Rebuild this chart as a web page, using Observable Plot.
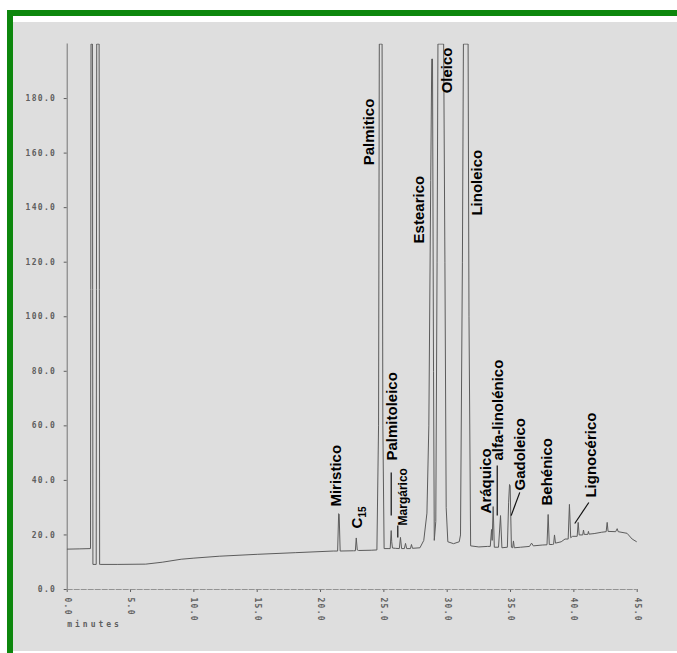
<!DOCTYPE html>
<html>
<head>
<meta charset="utf-8">
<script src="https://cdn.jsdelivr.net/npm/d3@7"></script>
<script src="https://cdn.jsdelivr.net/npm/@observablehq/plot@0.6"></script>
<style>
  html, body { margin: 0; padding: 0; background: #ffffff; }
  #page { position: relative; width: 677px; height: 653px; overflow: hidden; }
  .bar { position: absolute; background: #0d870d; }
  #chart { position: absolute; left: 0; top: 0; }
  #chart svg { letter-spacing: 1.3px; font-weight: bold; }
  #chart g[aria-label="text"] text { letter-spacing: 0; }
</style>
</head>
<body>
<div id="page">
  <div class="bar" style="left:7px;top:10px;width:670px;height:6px"></div>
  <div class="bar" style="left:7px;top:10px;width:6px;height:643px"></div>
  <div style="position:absolute;left:13px;top:22px;width:664px;height:629px;background:#dedede"></div>
  <div id="chart"></div>
</div>
<script>
// Retention time (minutes) and detector signal of the chromatogram trace
const traceTime = [
  0, 1.0, 1.84, 1.86, 1.88, 1.99, 2.01, 2.03, 2.29, 2.31, 2.33, 2.52, 2.54, 2.56,
  2.6, 4.0, 6.2, 7.5, 9.0, 10.0, 12.0, 15.0, 18.0, 21.0,
  21.35, 21.43, 21.47, 21.55, 22.6, 22.75, 22.82, 22.9, 23.0, 24.0,
  24.45, 24.58, 24.64, 24.86, 24.92, 25.02, 25.4,
  25.5, 25.58, 25.62, 25.68, 25.9, 26.22, 26.31, 26.4, 26.62, 26.71, 26.8, 27.1, 27.18, 27.26,
  27.85, 28.15, 28.4, 28.55, 28.7, 28.78, 28.84, 28.92, 28.98,
  29.1, 29.2, 29.27, 29.72, 29.82, 29.92, 30.05, 30.5, 30.95,
  31.05, 31.2, 31.28, 31.65, 31.72, 31.85, 32.5, 33.2,
  33.4, 33.5, 33.55, 33.63, 33.72, 34.05, 34.21, 34.32,
  34.75, 34.85, 34.92, 34.97, 35.07, 35.17, 35.23, 35.3, 35.8,
  36.5, 36.66, 36.8, 37.5, 37.88, 37.97, 38.06, 38.3, 38.4, 38.47, 38.55,
  39.0, 39.3, 39.55, 39.65, 39.75, 39.9, 40.26, 40.34, 40.42,
  40.7, 40.76, 40.82, 41.1, 41.15, 41.2, 41.6, 42.2,
  42.55, 42.63, 42.7, 43.3, 43.42, 43.5, 44.2, 44.6, 45.1
];
const traceSignal = [
  14.8, 14.9, 15.0, 110, 200, 200, 110, 9.2, 9.2, 110, 200, 200, 110, 9.2,
  9.2, 9.2, 9.3, 10.0, 11.1, 11.5, 12.2, 12.9, 13.5, 14.1,
  14.1, 27.8, 27.6, 14.1, 14.2, 14.2, 18.9, 14.5, 14.3, 14.4,
  14.5, 60, 200, 200, 60, 15.0, 15.0,
  15.0, 21.6, 17.5, 15.2, 15.1, 15.0, 19.1, 15.0, 15.0, 16.9, 15.0, 15.0, 16.5, 15.1,
  15.3, 18.0, 28.0, 60, 150, 194.5, 194.5, 80, 18.0,
  25, 120, 200, 200, 120, 30, 17.5, 16.8, 17.5,
  20, 120, 200, 200, 100, 16.0, 15.6, 15.8,
  15.8, 22.0, 18.0, 30.4, 15.5, 15.5, 27.1, 15.3,
  15.5, 32.0, 38.5, 38.0, 15.5, 15.3, 17.8, 15.3, 15.5,
  15.8, 17.0, 16.0, 16.3, 16.4, 27.5, 16.5, 16.5, 16.6, 20.0, 17.0,
  17.5, 18.5, 18.5, 31.2, 19.0, 19.5, 19.5, 24.6, 20.0,
  20.0, 21.8, 20.2, 20.2, 21.3, 20.3, 20.5, 21.0,
  21.2, 24.6, 21.3, 21.2, 22.3, 21.2, 20.6, 18.5, 17.1
];

// Peak labels (name, retention time, signal at the label foot)
const peakNames  = ["Miristico", "Palmitico", "Palmitoleico", "Estearico", "Oleico", "Linoleico",
                    "Aráquico", "alfa-linolénico", "Gadoleico", "Behénico", "Lignocérico"];
const peakTimes  = [21.26, 23.87, 25.68, 27.81, 30.02, 32.39, 33.10, 34.05, 35.79, 37.92, 41.39];
const peakLevels = [30.4, 155.5, 47.3, 126.9, 181.9, 137.1, 27.9, 47.3, 36.3, 30.8, 33.7];

const smallNames  = ["Margárico"];
const smallTimes  = [26.55];
const smallLevels = [23.5];

const c15Main = {name: "C", time: 22.92, level: 22.4};
const c15Sub  = {name: "15", time: 23.31, level: 26.4};

// Leader lines from labels to peaks
const leaderT1 = [25.58, 26.10, 33.95, 35.73, 41.18];
const leaderV1 = [42.9, 23.5, 45.5, 35.6, 31.9];
const leaderT2 = [25.58, 26.10, 33.95, 35.05, 40.07];
const leaderV2 = [27.1, 19.1, 27.1, 27.1, 24.2];

const xTicks = [0, 5, 10, 15, 20, 25, 30, 35, 40, 45];
const yTicks = [0, 20, 40, 60, 80, 100, 120, 140, 160, 180];

const trace = traceTime.map((t, i) => ({t, v: traceSignal[i]}));
const peaks = peakNames.map((n, i) => ({n, t: peakTimes[i], v: peakLevels[i]}));
const smalls = smallNames.map((n, i) => ({n, t: smallTimes[i], v: smallLevels[i]}));
const leaders = leaderT1.map((t, i) => ({t1: t, v1: leaderV1[i], t2: leaderT2[i], v2: leaderV2[i]}));

const labelFont = "Liberation Sans, Arial, Helvetica, sans-serif";

const plot = Plot.plot({
  width: 677,
  height: 653,
  marginLeft: 66.7,
  marginRight: 40.3,
  marginTop: 43.5,
  marginBottom: 64,
  style: {background: "transparent", fontFamily: "DejaVu Sans Mono, monospace", fontSize: "8px", color: "#5e5e5e"},
  x: {domain: [0, 45], ticks: xTicks, tickFormat: d => d.toFixed(1), tickRotate: 90, tickSize: 3, tickPadding: 5, label: null},
  y: {domain: [0, 200], ticks: yTicks, tickFormat: d => d.toFixed(1), tickSize: 3, tickPadding: 8, label: null},
  marks: [
    Plot.ruleY([0], {stroke: "#8a8a8a", strokeWidth: 0.9, strokeDasharray: "6,1"}),
    Plot.ruleX([0], {stroke: "#6a6a6a", strokeWidth: 0.9}),
    Plot.line(trace, {x: "t", y: "v", stroke: "#5c5c5c", strokeWidth: 1, clip: true}),
    Plot.link(leaders, {x1: "t1", y1: "v1", x2: "t2", y2: "v2", stroke: "#111", strokeWidth: 1.2}),
    Plot.text(peaks, {x: "t", y: "v", text: "n", rotate: -90, textAnchor: "start", fontFamily: labelFont, fontWeight: "bold", fontSize: 15, fill: "#000"}),
    Plot.text(smalls, {x: "t", y: "v", text: "n", rotate: -90, textAnchor: "start", fontFamily: labelFont, fontWeight: "bold", fontSize: 12, fill: "#000"}),
    Plot.text([c15Main], {x: "time", y: "level", text: "name", rotate: -90, textAnchor: "start", fontFamily: labelFont, fontWeight: "bold", fontSize: 15, fill: "#000"}),
    Plot.text([c15Sub], {x: "time", y: "level", text: "name", rotate: -90, textAnchor: "start", fontFamily: labelFont, fontWeight: "bold", fontSize: 10, fill: "#000"}),
    Plot.text(["minutes"], {frameAnchor: "bottom-left", dy: 37, textAnchor: "start", fontFamily: "DejaVu Sans Mono, monospace", fontSize: 8, fill: "#5e5e5e"})
  ]
});
d3.select(plot).selectAll("text").filter(function() { return this.textContent === "minutes"; }).style("letter-spacing", "3px");
document.getElementById("chart").appendChild(plot);
</script>
</body>
</html>
